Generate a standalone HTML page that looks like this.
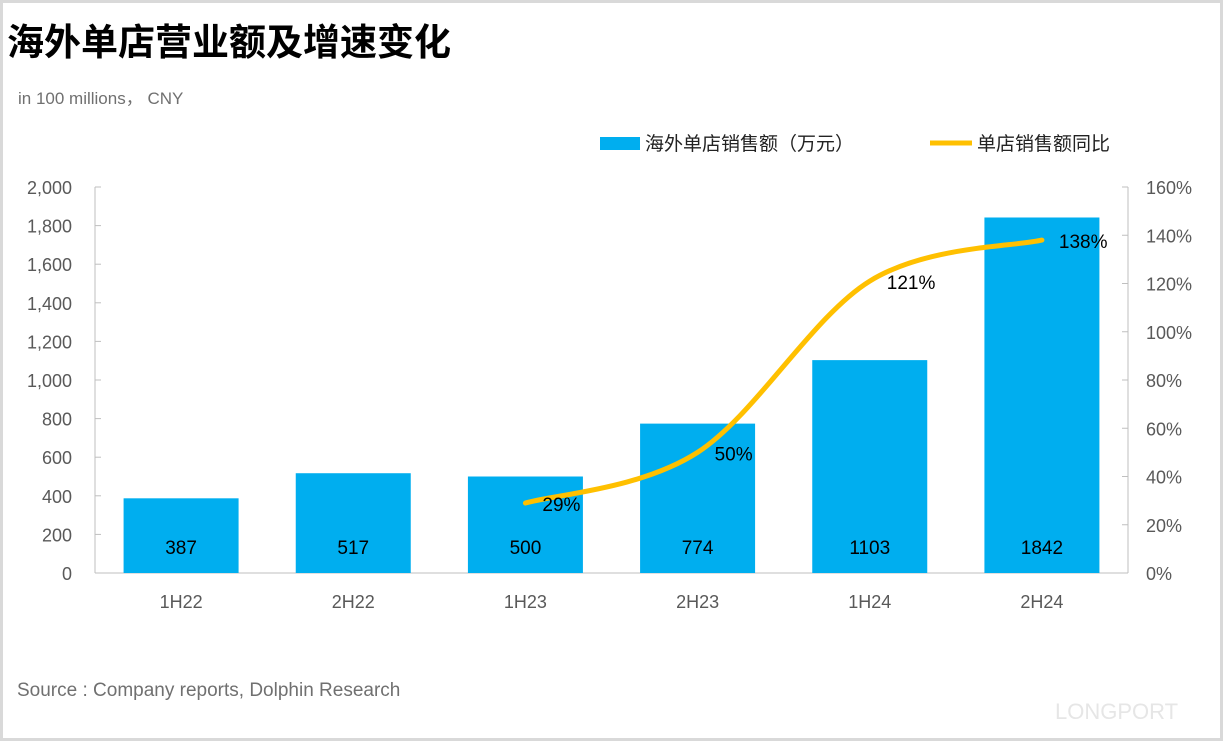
<!DOCTYPE html>
<html><head><meta charset="utf-8"><style>
html,body{margin:0;padding:0;background:#fff;}
#wrap{position:relative;width:1223px;height:741px;overflow:hidden;box-sizing:border-box;border:3px solid #d9d9d9;font-family:"Liberation Sans","Noto Sans CJK SC",sans-serif;}
</style></head><body>
<div id="wrap">
<svg id="chart" width="1223" height="741" style="position:absolute;left:-3px;top:-3px">
<text x="7" y="55" font-size="37" font-weight="bold" fill="#000" font-family="Liberation Sans,Noto Sans CJK SC,sans-serif">海外单店营业额及增速变化</text>
<text x="18" y="104" font-size="17" fill="#707070" font-family="Liberation Sans,Noto Sans CJK SC,sans-serif">in 100 millions， CNY</text>
<rect x="600" y="137" width="40" height="13" fill="#00aeef"/>
<text x="645" y="150" font-size="19" fill="#222" font-family="Liberation Sans,Noto Sans CJK SC,sans-serif">海外单店销售额（万元）</text>
<line x1="930" y1="143" x2="972" y2="143" stroke="#ffc000" stroke-width="5"/>
<text x="977" y="150" font-size="19" fill="#222" font-family="Liberation Sans,Noto Sans CJK SC,sans-serif">单店销售额同比</text>
<g id="g"></g>
<text x="17" y="696" font-size="19" fill="#707070" font-family="Liberation Sans,sans-serif">Source : Company reports, Dolphin Research</text>
<text x="1055" y="719" font-size="22" fill="#e6e6e6" font-family="Liberation Sans,sans-serif">LONGPORT</text>
</svg>
</div>
<script>
const categories=["1H22","2H22","1H23","2H23","1H24","2H24"];
const sales=[387,517,500,774,1103,1842];
const growth=[null,null,29,50,121,138];
const leftTicks=[0,200,400,600,800,1000,1200,1400,1600,1800,2000];
const rightTicks=[0,20,40,60,80,100,120,140,160];

const NS="http://www.w3.org/2000/svg";
const g=document.getElementById('g');
const X0=95,X1=1128,Y0=573,Y1=187;
const band=(X1-X0)/categories.length;
const xc=i=>X0+band*(i+0.5);
const yL=v=>Y0-(v/2000)*(Y0-Y1);
const yR=v=>Y0-(v/160)*(Y0-Y1);
function mk(t,a,txt){const e=document.createElementNS(NS,t);for(const k in a)e.setAttribute(k,a[k]);if(txt!=null)e.textContent=txt;g.appendChild(e);return e;}
const F="Liberation Sans,sans-serif";
let e;
e=mk('line',{x1:X0,y1:Y1,x2:X0,y2:Y0,stroke:'#bfbfbf'});


e=mk('line',{x1:X1,y1:Y1,x2:X1,y2:Y0,stroke:'#bfbfbf'});


e=mk('line',{x1:X0,y1:Y0,x2:X1,y2:Y0,stroke:'#bfbfbf'});


leftTicks.forEach(v=>{
  mk('line',{x1:X0,y1:yL(v),x2:X0+6,y2:yL(v),stroke:'#bfbfbf'});
  e=mk('text',{x:72,y:yL(v)+7,'font-size':18,fill:'#595959','text-anchor':'end','font-family':F},v.toLocaleString('en-US'));
  
  
});
rightTicks.forEach(v=>{
  mk('line',{x1:X1-6,y1:yR(v),x2:X1,y2:yR(v),stroke:'#bfbfbf'});
  e=mk('text',{x:1146,y:yR(v)+7,'font-size':18,fill:'#595959','font-family':F},v+'%');
  
  
});
const bw=115;
categories.forEach((c,i)=>{
  e=mk('rect',{x:xc(i)-bw/2,y:yL(sales[i]),width:bw,height:Y0-yL(sales[i]),fill:'#00aeef'});
  
  
  e=mk('text',{x:xc(i),y:554,'font-size':19,fill:'#000','text-anchor':'middle','font-family':F},sales[i]);
  
  
  e=mk('text',{x:xc(i),y:608,'font-size':18,fill:'#595959','text-anchor':'middle','font-family':F},c);
  
  
});
const pts=[];growth.forEach((v,i)=>{if(v!=null)pts.push([xc(i),yR(v),v]);});
let d='M'+pts[0][0]+','+pts[0][1];
for(let i=0;i<pts.length-1;i++){
  const p0=pts[Math.max(0,i-1)],p1=pts[i],p2=pts[i+1],p3=pts[Math.min(pts.length-1,i+2)];
  const c1x=p1[0]+(p2[0]-p0[0])/6,c1y=p1[1]+(p2[1]-p0[1])/6;
  const c2x=p2[0]-(p3[0]-p1[0])/6,c2y=p2[1]-(p3[1]-p1[1])/6;
  d+=` C${c1x},${c1y} ${c2x},${c2y} ${p2[0]},${p2[1]}`;
}
e=mk('path',{d:d,fill:'none',stroke:'#ffc000','stroke-width':5,'stroke-linecap':'round'});


pts.forEach(p=>{
  e=mk('text',{x:p[0]+17,y:p[1]+8,'font-size':19,fill:'#000','font-family':F},p[2]+'%');
  
  
});
</script>
</body></html>
